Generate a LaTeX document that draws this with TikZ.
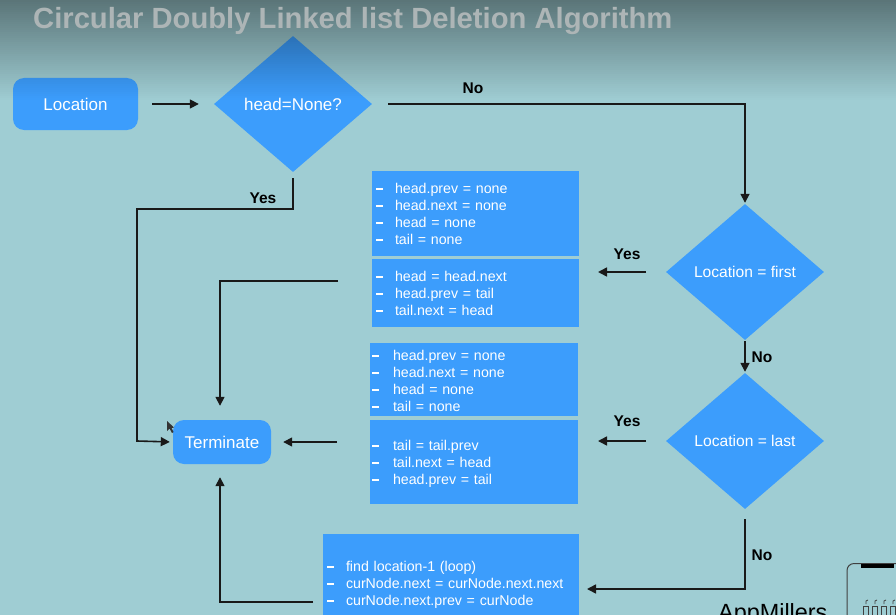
\documentclass[tikz,border=0pt]{standalone}
\usepackage{fontspec}
\setmainfont{Liberation Sans}
\usetikzlibrary{shapes.geometric,arrows.meta}
\definecolor{bgc}{HTML}{9FCDD3}
\definecolor{bluec}{HTML}{3C9DFC}
\definecolor{titlec}{HTML}{ADB5B6}
\newcommand{\dy}{1pt}
\newcommand{\dl}[2][19pt]{\strut\raisebox{-\dy}[0pt][0pt]{\makebox[#1][l]{\rule[3.5pt]{7pt}{2pt}}#2}\\}
\tikzset{
  x=1pt,y=-1pt,
  rbox/.style={rectangle,rounded corners=11pt,fill=bluec,text=white,inner sep=0pt,font=\fontsize{17}{19}\selectfont},
  dia/.style={diamond,fill=bluec,text=white,inner sep=0pt,minimum width=158pt,minimum height=136pt,aspect=1.16,font=\fontsize{15.6}{18}\selectfont},
  codebox/.style={rectangle,fill=bluec,text=white,inner sep=0pt,font=\fontsize{14.2}{17}\selectfont,align=left},
  lower/.style={execute at begin node={\renewcommand{\dy}{#1}}},
  conn/.style={draw=black!90,line width=1.6pt,-{Triangle[length=9pt,width=9pt]}},
  lab/.style={font=\bfseries\fontsize{15.5}{18}\selectfont,text=black,inner sep=0pt}
}
\begin{document}
\begin{tikzpicture}
\useasboundingbox (0,0) rectangle (896,615);
\clip (0,0) rectangle (896,615);
\fill[bgc] (0,0) rectangle (896,615);
% nodes
\node[rbox,minimum width=125pt,minimum height=52pt] (loc) at (75.5,104) {Location};
\node[dia,font=\fontsize{17}{19}\selectfont] (d1) at (293,104) {head=None?};
\node[dia] (d2) at (745,272) {Location = first};
\node[dia] (d3) at (745,441) {Location = last};
\node[rbox,minimum width=98pt,minimum height=44pt] (term) at (222,442) {Terminate};
\node[codebox,lower=2pt,minimum width=207pt,minimum height=85pt,text width=199pt] (b1) at (475.5,213.5) {\dl{head.prev = none}\dl{head.next = none}\dl{head = none}\dl{tail = none}};
\node[codebox,lower=2pt,minimum width=207pt,minimum height=68pt,text width=199pt] (b2) at (475.5,293) {\dl{head = head.next}\dl{head.prev = tail}\dl{tail.next = head}};
\node[codebox,lower=3pt,minimum width=208pt,minimum height=73pt,text width=204pt] (b3) at (474,379.5) {\dl[21pt]{head.prev = none}\dl[21pt]{head.next = none}\dl[21pt]{head = none}\dl[21pt]{tail = none}};
\node[codebox,lower=2pt,minimum width=208pt,minimum height=84pt,text width=204pt] (b4) at (474,462) {\dl[21pt]{tail = tail.prev}\dl[21pt]{tail.next = head}\dl[21pt]{head.prev = tail}};
\node[codebox,lower=1pt,minimum width=256pt,minimum height=100pt,text width=248pt] (b5) at (451,584) {\dl{find location-1 (loop)}\dl{curNode.next = curNode.next.next}\dl{curNode.next.prev = curNode}};
% free ends and bends
\coordinate (c1a) at (293,209);
\coordinate (c1b) at (137,209);
\coordinate (c1c) at (137,441);
\coordinate (b2out) at (338,281);
\coordinate (b4out) at (337,442);
\coordinate (b5out) at (313,602);
\coordinate (b5in) at (587,589);
\coordinate (d3b) at (745,589);
\coordinate (noa) at (745,104);
\coordinate (y1) at (646,272);
\coordinate (y2) at (646,441);
\coordinate (y1e) at (598,272);
\coordinate (y2e) at (598,441);
\coordinate (t1) at (220,442);
% connectors
\draw[conn,shorten <=14pt,shorten >=15pt] (loc.east) -- (d1.west);
\draw[conn,shorten <=16pt,shorten >=1pt] (d1.east) -- (noa) -- (d2.north);
\draw[conn,shorten <=6pt,shorten >=3pt] (d1.south) -- (c1a) -- (c1b) -- (c1c) -- (term.west);
\draw[conn] (b2out) -| ([yshift=14pt]t1 |- term.north);
\draw[conn,shorten >=12pt] (b4out) -- (term.east);
\draw[conn] (b5out) -| ([yshift=-13pt]t1 |- term.south);
\draw[conn] (y1) -- (y1e);
\draw[conn] (y2) -- (y2e);
\draw[conn,shorten <=1pt,shorten >=1pt] (d2.south) -- (d3.north);
\draw[conn,shorten <=10pt] (d3.south) -- (d3b) -- (b5in);
% labels
\node[lab] (lno1) at (473,88) {No};
\node[lab] (lyes1) at (263,198) {Yes};
\node[lab] (lyes2) at (627,254) {Yes};
\node[lab] (lno2) at (762,357) {No};
\node[lab] (lyes3) at (627,421) {Yes};
\node[lab] (lno3) at (762,555) {No};
% logo
\node[font=\fontsize{23.4}{26}\selectfont,text=black,inner sep=0pt,anchor=west] (app) at (718,614) {AppMillers};
\draw[black!75,line width=1pt,rounded corners=7pt] (847,615) -- (847,563.5) -- (896,563.5);
\fill[black] (861,563.5) rectangle (894,568);
\foreach \i in {0,1,2,3}{
  \draw[black!75,line width=.8pt] (863+\i*9,615) -- (863+\i*9,606) -- (868+\i*9,606) -- (868+\i*9,615);
  \draw[black!75,line width=.8pt] (866+\i*9,604) -- (866+\i*9,601) -- (868+\i*9,600);
}
% pointer
\fill[black!80] (167,421) -- (167,431) -- (169.5,428.5) -- (172,433) -- (173.5,432) -- (171.5,428) -- (174,427.5) -- cycle;
% top shadow
\foreach \s in {0,2,...,98}{
  \pgfmathsetmacro{\al}{.43*(1-(\s+1)/100)}
  \fill[black,opacity=\al] (0,\s) rectangle (896,\s+2);
}
% title
\node[font=\bfseries\fontsize{29.2}{33}\selectfont,text=titlec,inner sep=0pt,anchor=west] (title) at (33,21) {Circular Doubly Linked list Deletion Algorithm};
\end{tikzpicture}
\end{document}
